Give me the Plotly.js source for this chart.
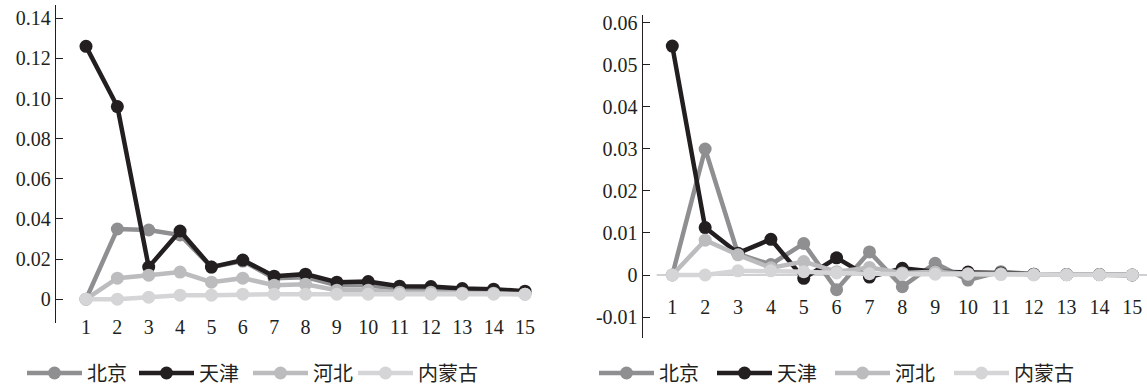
<!DOCTYPE html>
<html>
<head>
<meta charset="utf-8">
<script src="https://cdn.plot.ly/plotly-3.0.1.min.js"></script>
<style>
html,body{margin:0;padding:0;background:#fff;}
</style>
</head>
<body>
<div id="chart"></div>
<script>
// ---- data ----
const periods = [1,2,3,4,5,6,7,8,9,10,11,12,13,14,15];
const periodLabels = ["1","2","3","4","5","6","7","8","9","10","11","12","13","14","15"];
const seriesNames = ["北京","天津","河北","内蒙古"];

const leftBeijing  = [0, 0.0350, 0.0345, 0.0320, 0.0160, 0.0190, 0.0105, 0.0110, 0.0070, 0.0070, 0.0050, 0.0050, 0.0040, 0.0035, 0.0030];
const leftTianjin  = [0.126, 0.096, 0.016, 0.034, 0.016, 0.0195, 0.0115, 0.0125, 0.0085, 0.0088, 0.0065, 0.0063, 0.0053, 0.0050, 0.0040];
const leftHebei    = [0, 0.0105, 0.0120, 0.0135, 0.0085, 0.0105, 0.0070, 0.0075, 0.0045, 0.0045, 0.0035, 0.0035, 0.0030, 0.0030, 0.0025];
const leftNeimeng  = [0, 0, 0.0010, 0.0020, 0.0020, 0.0025, 0.0025, 0.0025, 0.0025, 0.0025, 0.0025, 0.0025, 0.0025, 0.0025, 0.0025];

const rightBeijing = [0, 0.0300, 0.0050, 0.0025, 0.0075, -0.0035, 0.0055, -0.0028, 0.0028, -0.0012, 0.0008, 0.0002, 0.0001, 0.0001, 0];
const rightTianjin = [0.0545, 0.0113, 0.0052, 0.0085, -0.0008, 0.0041, -0.0005, 0.0016, 0.0008, 0.0007, 0.0005, 0.0002, 0.0001, 0.0001, 0];
const rightHebei   = [0, 0.0083, 0.0048, 0.0017, 0.0032, 0.0008, 0.0018, 0.0005, 0.0008, 0.0003, 0.0003, 0.0001, 0.0001, 0.0001, 0];
const rightNeimeng = [0, 0, 0.0010, 0.0010, 0.0008, 0.0005, 0.0003, 0.0002, 0.0002, 0.0002, 0.0001, 0, 0, 0, 0];

const leftTicks  = [0, 0.02, 0.04, 0.06, 0.08, 0.10, 0.12, 0.14];
const leftTickText = ["0","0.02","0.04","0.06","0.08","0.10","0.12","0.14"];
const rightTicks = [-0.01, 0, 0.01, 0.02, 0.03, 0.04, 0.05, 0.06];
const rightTickText = ["-0.01","0","0.01","0.02","0.03","0.04","0.05","0.06"];

// ---- styles ----
const colors = ["#8f8f91", "#231f20", "#bcbcbe", "#d5d5d7"];
const FONT = "Liberation Serif";
const TXT = "#231f20";
const W = 1147, H = 388;

// legend anchors (px of swatch start) for each panel's four entries
const legendLeftPx  = [25, 137, 251, 356];
const legendRightPx = [597, 715, 833, 952];

function mk(name, y, color, xa, ya, legend) {
  return {
    type: "scatter", mode: "lines+markers", name: name,
    x: periods, y: y, xaxis: xa, yaxis: ya, legend: legend,
    line: {color: color, width: 4.5},
    marker: {color: color, size: 13},
    cliponaxis: false, hoverinfo: "skip"
  };
}

const leftSets = [leftBeijing, leftTianjin, leftHebei, leftNeimeng];
const rightSets = [rightBeijing, rightTianjin, rightHebei, rightNeimeng];
const traces = [];
const legendIds = [];
leftSets.forEach((s, i) => { const id = i === 0 ? "legend" : "legend" + (i + 1); legendIds.push([id, legendLeftPx[i]]); traces.push(mk(seriesNames[i], s, colors[i], "x", "y", id)); });
rightSets.forEach((s, i) => { const id = "legend" + (i + 5); legendIds.push([id, legendRightPx[i]]); traces.push(mk(seriesNames[i], s, colors[i], "x2", "y2", id)); });

const xCommon = {
  tickmode: "array", tickvals: periods, ticktext: periodLabels,
  showgrid: false, zeroline: false, showline: false, ticks: "",
  tickfont: {family: FONT, size: 20, color: TXT}, fixedrange: true
};
const yCommon = {
  tickmode: "array", showgrid: false, zeroline: false,
  showline: true, linecolor: TXT, linewidth: 1.3,
  ticks: "inside", ticklen: 7, tickcolor: TXT, tickwidth: 1.3,
  tickfont: {family: FONT, size: 20, color: TXT}, fixedrange: true
};

const layout = {
  width: W, height: H,
  margin: {l: 0, r: 0, t: 0, b: 0, autoexpand: false},
  paper_bgcolor: "#fff", plot_bgcolor: "#fff",
  font: {family: FONT, size: 20, color: TXT},
  showlegend: true,
  xaxis: Object.assign({}, xCommon, {
    domain: [56/W, 545/W], range: [0.0433, 15.638],
    anchor: "free", position: 1 - 313/H
  }),
  yaxis: Object.assign({}, yCommon, {
    domain: [1 - 322.7/H, 1 - 5/H], range: [-0.0117, 0.1466],
    tickvals: leftTicks, ticktext: leftTickText, anchor: "x"
  }),
  xaxis2: Object.assign({}, xCommon, {
    domain: [642.7/W, 1], range: [0.099, 15.447],
    anchor: "free", position: 1 - 293/H
  }),
  yaxis2: Object.assign({}, yCommon, {
    domain: [1 - 338/H, 1 - 15/H], range: [-0.0150, 0.0619],
    tickvals: rightTicks, ticktext: rightTickText, anchor: "x2"
  }),
  shapes: [{
    type: "line", xref: "x2", yref: "y2", x0: 0.525, x1: 15.447, y0: 0, y1: 0,
    line: {color: "#d0d0d2", width: 2}, layer: "below"
  }]
};
legendIds.forEach(([id, px]) => {
  layout[id] = {
    orientation: "h", x: (px - 3) / W, xanchor: "left", y: 1 - 373/H, yanchor: "middle",
    font: {family: FONT, size: 20, color: TXT}, itemwidth: 55,
    bgcolor: "rgba(0,0,0,0)", borderwidth: 0
  };
});

function forceSerif() {
  document.querySelectorAll("#chart svg text").forEach(t => {
    t.style.setProperty("font-family", "'Liberation Serif', 'Noto Sans CJK SC', serif", "important");
    t.setAttribute("font-family", "Liberation Serif");
  });
}

const gd = document.getElementById("chart");
Plotly.newPlot(gd, traces, layout, {displayModeBar: false}).then(() => {
  forceSerif();
  gd.on("plotly_afterplot", forceSerif);
});
</script>
</body>
</html>
